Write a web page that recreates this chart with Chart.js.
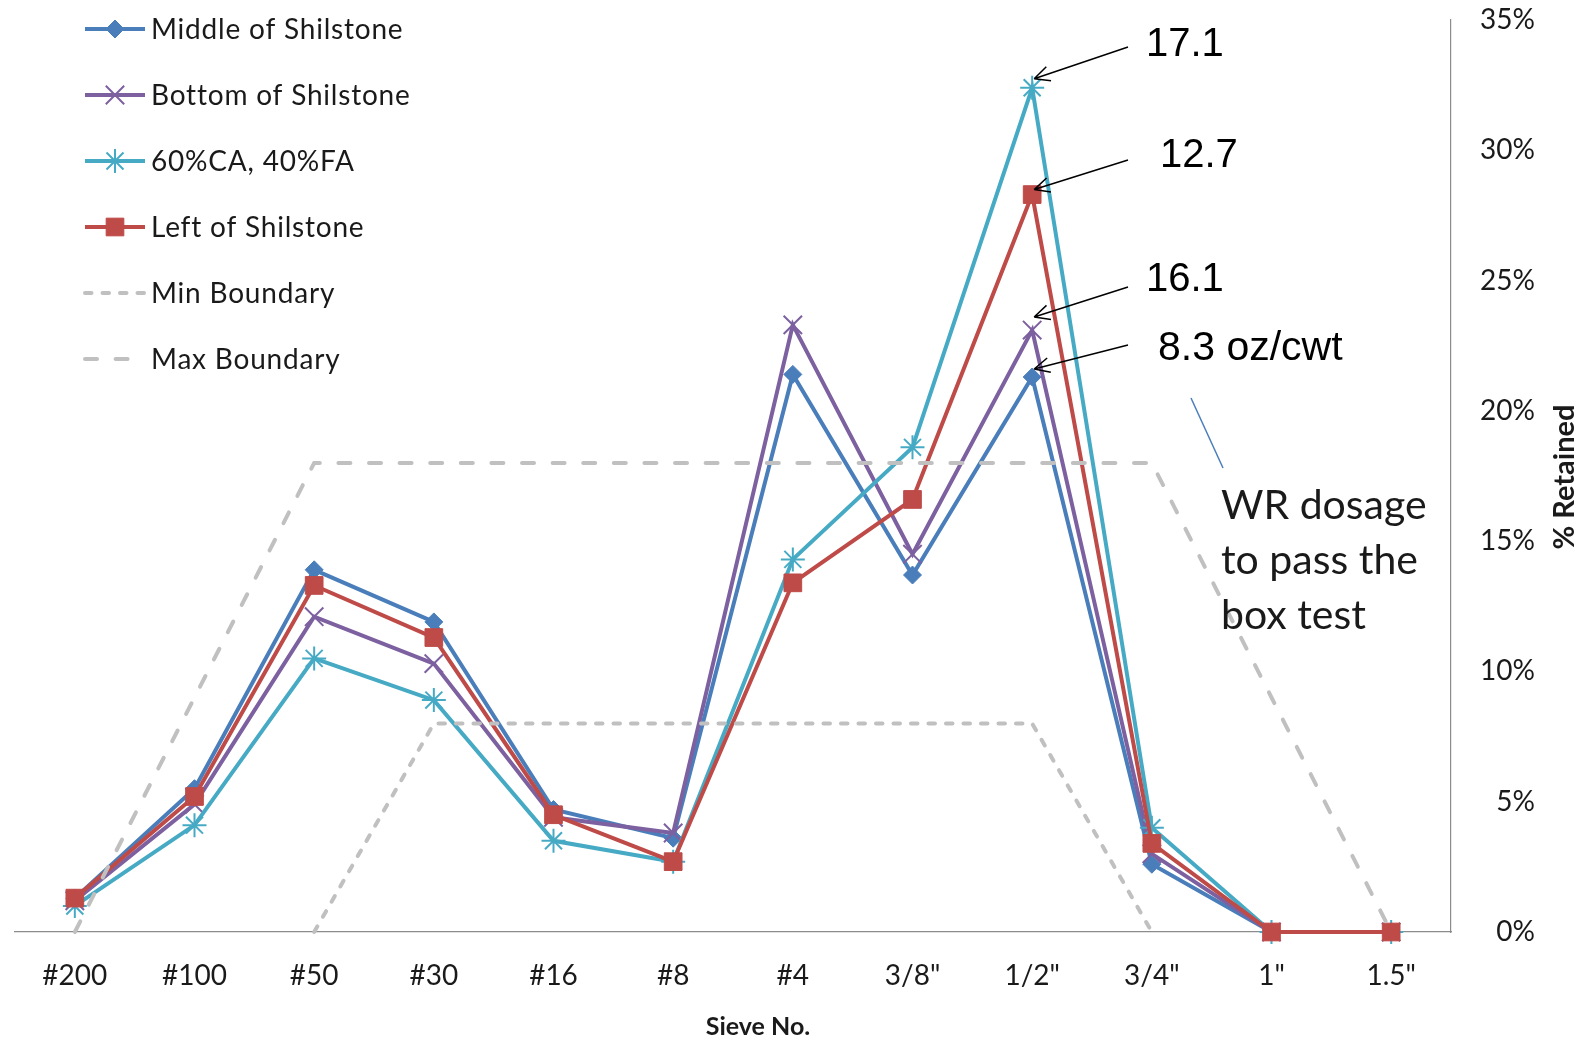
<!DOCTYPE html>
<html>
<head>
<meta charset="utf-8">
<script src="https://cdn.jsdelivr.net/npm/chart.js@4.4.1/dist/chart.umd.min.js"></script>
<style>
  html, body { margin: 0; padding: 0; background: #fff; }
  #wrap { width: 1589px; height: 1039px; }
</style>
</head>
<body>
<div id="wrap"><canvas id="sieveChart" width="1589" height="1039"></canvas></div>
<script>
// sieve sizes, fine to coarse
const SIEVES = ['#200', '#100', '#50', '#30', '#16', '#8', '#4', '3/8"', '1/2"', '3/4"', '1"', '1.5"'];

// % retained per sieve
const MIDDLE = [1.3, 5.5, 13.9, 11.9, 4.7, 3.6, 21.4, 13.7, 21.3, 2.6, 0, 0];
const BOTTOM = [1.2, 4.9, 12.1, 10.3, 4.4, 3.8, 23.3, 14.5, 23.1, 3.0, 0, 0];
const CA60_FA40 = [1.0, 4.1, 10.5, 8.9, 3.5, 2.7, 14.3, 18.6, 32.4, 4.0, 0, 0];
const LEFT = [1.3, 5.2, 13.3, 11.3, 4.5, 2.7, 13.4, 16.6, 28.3, 3.4, 0, 0];
const MIN_BOUNDARY = [null, null, 0, 8, 8, 8, 8, 8, 8, 0, null, null];
const MAX_BOUNDARY = [0, 9, 18, 18, 18, 18, 18, 18, 18, 18, 9, 0];

const Y_TICKS = [0, 5, 10, 15, 20, 25, 30, 35];

// WR dosage callouts at the 1/2" sieve
const CALLOUT_SIEVE = 8;
const CALLOUTS = [
  { text: '17.1', series: 2 },
  { text: '12.7', series: 3 },
  { text: '16.1', series: 1 },
  { text: '8.3 oz/cwt', series: 0 },
];
const NOTE_LINES = ['WR dosage', 'to pass the', 'box test'];

const COLORS = {
  blue: '#4A7EBB',
  purple: '#7D60A0',
  teal: '#46AAC5',
  red: '#BE4B48',
  bound: '#C0C0C0',
  axis: '#8C8C8C',
  text: '#1A1A1A',
};

const CALIBRI = 'Lato, "Open Sans", sans-serif';
const ARIAL = '"Liberation Sans", Arial, sans-serif';

// pixel placement of callout texts / arrow tails (annotation only)
const CALLOUT_LAYOUT = [
  { textX: 1146, textY: 45, tailX: 1128, tailY: 47, tipDy: -9 },
  { textX: 1160, textY: 156, tailX: 1128, tailY: 160, tipDy: -5 },
  { textX: 1146, textY: 280, tailX: 1128, tailY: 287, tipDy: -13 },
  { textX: 1158, textY: 349, tailX: 1128, tailY: 345, tipDy: -8 },
];

function series(label, data, color, style, radius, order) {
  const thin = style === 'crossRot' || style === 'star';
  return {
    label,
    data,
    borderColor: color,
    backgroundColor: color,
    borderWidth: 4,
    pointStyle: style,
    pointRadius: radius,
    pointBorderWidth: thin ? 2 : 1,
    pointBackgroundColor: color,
    pointBorderColor: color,
    tension: 0,
    clip: false,
    order,
  };
}

function boundary(label, data, dash, order) {
  return {
    label,
    data,
    borderColor: COLORS.bound,
    backgroundColor: COLORS.bound,
    borderWidth: 4,
    borderDash: dash,
    borderCapStyle: 'round',
    pointRadius: 0,
    pointHoverRadius: 0,
    tension: 0,
    spanGaps: false,
    clip: false,
    order,
  };
}

function drawArrow(ctx, x1, y1, x2, y2) {
  const a = Math.atan2(y2 - y1, x2 - x1);
  ctx.beginPath();
  ctx.moveTo(x1, y1);
  ctx.lineTo(x2, y2);
  for (const s of [-1, 1]) {
    ctx.moveTo(x2, y2);
    ctx.lineTo(x2 - 17 * Math.cos(a + s * 0.45), y2 - 17 * Math.sin(a + s * 0.45));
  }
  ctx.stroke();
}

const overlay = {
  id: 'overlay',
  afterDraw(chart) {
    const ctx = chart.ctx;
    ctx.save();

    // legend, top-left inside plot
    chart.data.datasets.forEach((ds, i) => {
      const y = 29 + i * 66;
      ctx.save();
      ctx.strokeStyle = ds.borderColor;
      ctx.lineWidth = ds.borderWidth;
      ctx.lineCap = ds.borderDash ? 'round' : 'butt';
      ctx.setLineDash(ds.borderDash || []);
      ctx.beginPath();
      ctx.moveTo(85, y);
      ctx.lineTo(145, y);
      ctx.stroke();
      ctx.restore();
      if (ds.pointRadius > 0) {
        ctx.save();
        ctx.fillStyle = ds.pointBackgroundColor;
        ctx.strokeStyle = ds.pointBorderColor;
        ctx.lineWidth = ds.pointBorderWidth;
        Chart.helpers.drawPoint(ctx, { pointStyle: ds.pointStyle, radius: ds.pointRadius, rotation: 0, borderWidth: ds.pointBorderWidth }, 115, y);
        ctx.restore();
      }
      ctx.save();
      ctx.fillStyle = COLORS.text;
      ctx.font = '28px ' + CALIBRI;
      ctx.letterSpacing = '0.8px';
      ctx.textAlign = 'left';
      ctx.textBaseline = 'middle';
      ctx.fillText(ds.label, 151, y + 1);
      ctx.restore();
    });

    // callouts with arrows
    ctx.strokeStyle = '#000';
    ctx.lineWidth = 1.5;
    CALLOUTS.forEach((c, i) => {
      const lay = CALLOUT_LAYOUT[i];
      const pt = chart.getDatasetMeta(c.series).data[CALLOUT_SIEVE];
      drawArrow(ctx, lay.tailX, lay.tailY, pt.x + 2, pt.y + lay.tipDy);
      ctx.fillStyle = '#000';
      ctx.font = (c.text.length > 4 ? '41px ' : '40px ') + ARIAL;
      ctx.textAlign = 'left';
      ctx.textBaseline = 'middle';
      ctx.fillText(c.text, lay.textX, lay.textY);
    });

    // note and its leader line
    ctx.strokeStyle = COLORS.blue;
    ctx.lineWidth = 1.5;
    ctx.beginPath();
    ctx.moveTo(1191, 398);
    ctx.lineTo(1223, 468);
    ctx.stroke();
    ctx.fillStyle = COLORS.text;
    ctx.font = '41px ' + CALIBRI;
    NOTE_LINES.forEach((t, i) => ctx.fillText(t, 1221, 506 + i * 55));

    // axis titles
    ctx.textAlign = 'center';
    ctx.font = 'bold 25px ' + CALIBRI;
    ctx.fillText('Sieve No.', 758, 1027);
    ctx.font = 'bold 29px ' + CALIBRI;
    ctx.translate(1565, 477);
    ctx.rotate(-Math.PI / 2);
    ctx.fillText('% Retained', 0, 0);

    ctx.restore();
  },
};

new Chart(document.getElementById('sieveChart').getContext('2d'), {
  type: 'line',
  data: {
    labels: SIEVES,
    datasets: [
      series('Middle of Shilstone', MIDDLE, COLORS.blue, 'rectRot', 9, 5),
      series('Bottom of Shilstone', BOTTOM, COLORS.purple, 'crossRot', 13, 4),
      series('60%CA, 40%FA', CA60_FA40, COLORS.teal, 'star', 12, 3),
      series('Left of Shilstone', LEFT, COLORS.red, 'rect', 12.5, 2),
      boundary('Min Boundary', MIN_BOUNDARY, [6.5, 11], 1),
      boundary('Max Boundary', MAX_BOUNDARY, [12, 18.6], 0),
    ],
  },
  options: {
    responsive: false,
    devicePixelRatio: 1,
    animation: false,
    layout: { padding: { left: 11, top: 20, right: 54, bottom: 0 } },
    plugins: { legend: { display: false }, tooltip: { enabled: false } },
    scales: {
      x: {
        offset: true,
        grid: { display: false, drawTicks: false },
        border: { display: true, color: COLORS.axis, width: 1.2 },
        ticks: { color: COLORS.text, font: { family: CALIBRI, size: 28 }, padding: 27, maxRotation: 0, autoSkip: false },
        afterFit: (s) => {
          s.height = 107;
          s.paddingLeft = 0;
          s.paddingRight = 0;
        },
      },
      y: {
        position: 'right',
        min: 0,
        max: 35,
        afterBuildTicks: (s) => { s.ticks = Y_TICKS.map((v) => ({ value: v })); },
        grid: { display: false, drawTicks: false },
        border: { display: true, color: COLORS.axis, width: 1.2 },
        ticks: {
          color: COLORS.text,
          font: { family: CALIBRI, size: 28 },
          padding: 20,
          crossAlign: 'far',
          callback: (v) => v + '%',
        },
        afterFit: (s) => {
          s.width = 84;
          s.paddingTop = 0;
          s.paddingBottom = 0;
        },
      },
    },
  },
  plugins: [overlay],
});
</script>
</body>
</html>
